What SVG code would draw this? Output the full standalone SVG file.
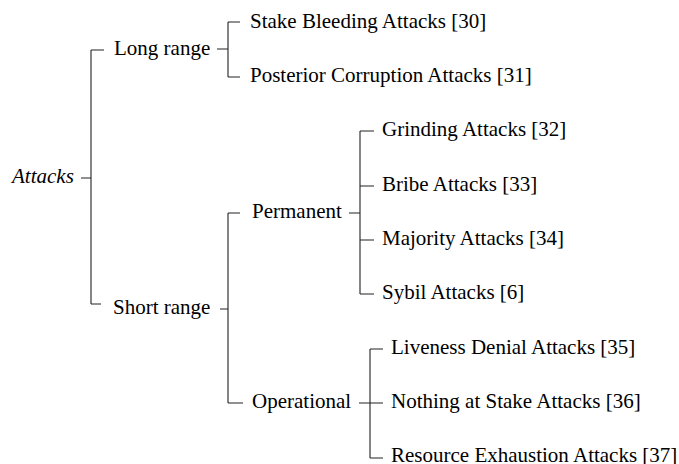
<svg xmlns="http://www.w3.org/2000/svg" width="679" height="464" viewBox="0 0 679 464" font-family="'Liberation Serif', 'Times New Roman', 'DejaVu Serif', serif">
<style>
.c{stroke:#222;stroke-width:1.1;fill:none}
.t{font-family:'Liberation Serif','Times New Roman',serif;font-size:21px;fill:#000}
</style>
<rect width="679" height="464" fill="#fff"/>
<g id="connectors" class="c">
<path d="M81,178H91M91,50V304M91,50H104M91,304H101"/>
<path d="M217,49H228M228,22V77M228,22H240M228,77H240"/>
<path d="M220,309H228M228,213V403M228,213H240M228,403H243"/>
<path d="M349,213H360M360,131V294M360,131H374M360,186H374M360,240H374M360,294H374"/>
<path d="M359,403H370M370,349V458M370,349H383M370,403H383M370,458H383"/>
</g>
<g id="attacks"><text class="t" font-style="italic" x="12" y="183">Attacks</text></g>
<g id="long-range"><text class="t" x="114" y="55">Long range</text></g>
<g id="stake-bleeding"><text class="t" x="250" y="28">Stake Bleeding Attacks [30]</text></g>
<g id="posterior-corruption"><text class="t" x="250" y="82">Posterior Corruption Attacks [31]</text></g>
<g id="short-range"><text class="t" x="113" y="314">Short range</text></g>
<g id="permanent"><text class="t" x="252" y="218">Permanent</text></g>
<g id="grinding"><text class="t" x="382" y="136">Grinding Attacks [32]</text></g>
<g id="bribe"><text class="t" x="382" y="191">Bribe Attacks [33]</text></g>
<g id="majority"><text class="t" x="382" y="245">Majority Attacks [34]</text></g>
<g id="sybil"><text class="t" x="382" y="299">Sybil Attacks [6]</text></g>
<g id="operational"><text class="t" x="252" y="408">Operational</text></g>
<g id="liveness-denial"><text class="t" x="391" y="354">Liveness Denial Attacks [35]</text></g>
<g id="nothing-at-stake"><text class="t" x="391" y="408">Nothing at Stake Attacks [36]</text></g>
<g id="resource-exhaustion"><text class="t" x="391" y="462">Resource Exhaustion Attacks [37]</text></g>
</svg>
